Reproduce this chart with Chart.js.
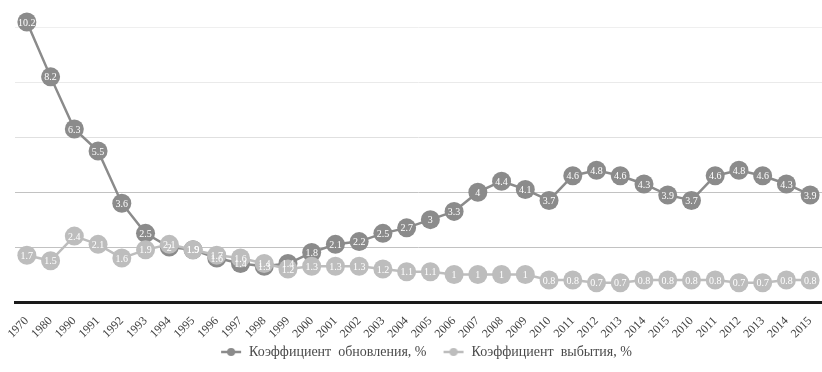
<!DOCTYPE html>
<html>
<head>
<meta charset="utf-8">
<script src="https://cdn.jsdelivr.net/npm/chart.js@4.4.1/dist/chart.umd.min.js"></script>
<style>
  html, body { margin: 0; padding: 0; background: #fff; overflow: hidden; }
  #wrap { width: 822px; height: 372px; position: relative; }
</style>
</head>
<body>
<div id="wrap"><canvas id="lineChart"></canvas></div>
<script>
'use strict';

var years = ['1970', '1980', '1990', '1991', '1992', '1993', '1994', '1995', '1996', '1997',
    '1998', '1999', '2000', '2001', '2002', '2003', '2004', '2005', '2006', '2007',
    '2008', '2009', '2010', '2011', '2012', '2013', '2014', '2015',
    '2010', '2011', '2012', '2013', '2014', '2015'];

var renewal = [10.2, 8.2, 6.3, 5.5, 3.6, 2.5, 2, 1.9, 1.6, 1.4,
    1.3, 1.4, 1.8, 2.1, 2.2, 2.5, 2.7, 3, 3.3, 4,
    4.4, 4.1, 3.7, 4.6, 4.8, 4.6, 4.3, 3.9,
    3.7, 4.6, 4.8, 4.6, 4.3, 3.9];

var retirement = [1.7, 1.5, 2.4, 2.1, 1.6, 1.9, 2.1, 1.9, 1.7, 1.6,
    1.4, 1.2, 1.3, 1.3, 1.3, 1.2, 1.1, 1.1, 1, 1,
    1, 1, 0.8, 0.8, 0.7, 0.7, 0.8, 0.8,
    0.8, 0.8, 0.7, 0.7, 0.8, 0.8];

var seriesNames = ['Коэффициент  обновления, %', 'Коэффициент  выбытия, %'];

var darkGrey = '#8b8b8b';
var lightGrey = '#bdbdbd';
var serif = '"Liberation Serif", "DejaVu Serif", serif';

// legend marker: short line with a dot, blank room on the left keeps the items apart
function legendMarker(color) {
    var c = document.createElement('canvas');
    c.width = 37; c.height = 10;
    var g = c.getContext('2d');
    g.strokeStyle = color;
    g.lineWidth = 2.5;
    g.beginPath(); g.moveTo(16, 5); g.lineTo(36, 5); g.stroke();
    g.fillStyle = color;
    g.beginPath(); g.arc(26, 5, 4, 0, Math.PI * 2); g.fill();
    return c;
}
var markers = [legendMarker(darkGrey), legendMarker(lightGrey)];

// white value labels inside the points
var valueLabels = {
    id: 'valueLabels',
    afterDatasetsDraw: function (chart) {
        var ctx = chart.ctx;
        ctx.save();
        ctx.font = '10px ' + serif;
        ctx.fillStyle = '#ffffff';
        ctx.textAlign = 'center';
        ctx.textBaseline = 'middle';
        [1, 0].forEach(function (di) {
            var meta = chart.getDatasetMeta(di);
            var data = chart.data.datasets[di].data;
            meta.data.forEach(function (pt, i) {
                ctx.fillText(String(data[i]), pt.x, pt.y + 1);
            });
        });
        ctx.restore();
    }
};

var gridColors = { 2: '#c2c2c2', 4: '#c2c2c2', 6: '#e0e0e0', 8: '#eaeaea', 10: '#efefef' };

var lineChart = new Chart(document.getElementById('lineChart'), {
    type: 'line',
    data: {
        labels: years,
        datasets: [
            {
                label: seriesNames[0],
                data: renewal,
                borderColor: darkGrey,
                backgroundColor: darkGrey,
                borderWidth: 2.5,
                pointRadius: 9.5,
                pointBorderWidth: 0,
                pointBackgroundColor: darkGrey,
                tension: 0,
                order: 1
            },
            {
                label: seriesNames[1],
                data: retirement,
                borderColor: lightGrey,
                backgroundColor: lightGrey,
                borderWidth: 2.5,
                pointRadius: 9.5,
                pointBorderWidth: 0,
                pointBackgroundColor: lightGrey,
                tension: 0,
                order: 0
            }
        ]
    },
    options: {
        responsive: true,
        maintainAspectRatio: false,
        animation: false,
        layout: { autoPadding: false, padding: { left: 15, right: 0, top: 0, bottom: 3 } },
        plugins: {
            tooltip: { enabled: false },
            legend: {
                position: 'bottom',
                labels: {
                    usePointStyle: true,
                    pointStyleWidth: 37,
                    color: '#4a4a4a',
                    font: { family: serif, size: 14 },
                    padding: 1,
                    boxHeight: 10,
                    sort: function (a, b) { return a.datasetIndex - b.datasetIndex; },
                    generateLabels: function (chart) {
                        var items = Chart.defaults.plugins.legend.labels.generateLabels(chart);
                        items.forEach(function (it) { it.pointStyle = markers[it.datasetIndex]; });
                        return items;
                    }
                }
            }
        },
        scales: {
            x: {
                offset: true,
                grid: { display: false },
                border: { display: true, color: '#1a1a1a', width: 3 },
                afterFit: function (scale) {
                    scale.paddingLeft = 0;
                    scale.paddingRight = 0;
                    scale.height = 42;
                },
                ticks: {
                    minRotation: 45,
                    maxRotation: 45,
                    autoSkip: false,
                    color: '#444',
                    padding: 4,
                    font: { family: serif, size: 12 }
                }
            },
            y: {
                min: 0,
                max: 11,
                ticks: { display: false, stepSize: 2 },
                border: { display: false },
                grid: {
                    drawTicks: false,
                    lineWidth: 1,
                    color: function (c) {
                        return gridColors[c.tick.value] || 'rgba(0,0,0,0)';
                    }
                }
            }
        }
    },
    plugins: [valueLabels]
});
</script>
</body>
</html>
